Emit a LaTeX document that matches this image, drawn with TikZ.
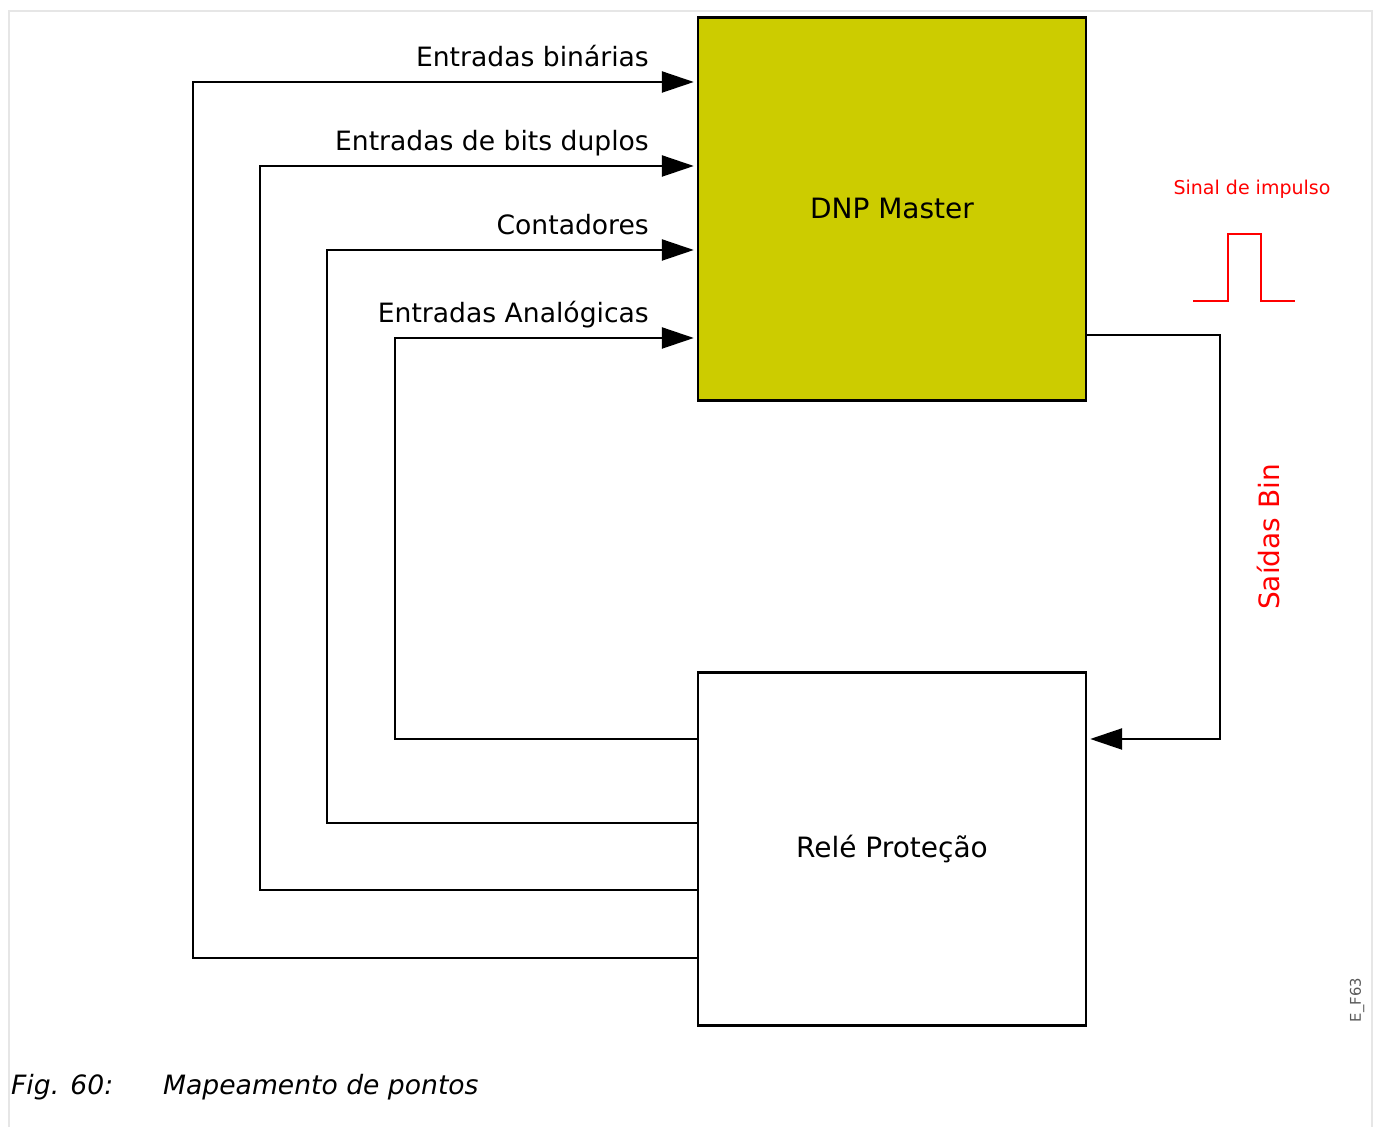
\documentclass[tikz,border=0pt]{standalone}
\usepackage{fontspec}
\setmainfont{DejaVu Sans}
\usetikzlibrary{arrows.meta,positioning}
\definecolor{dnpyellow}{RGB}{204,204,0}
\definecolor{framegray}{RGB}{230,230,230}
\newcommand{\InLink}[5]{%
  \draw[link] (rele.west |- 0,#1) -| (#2,#3) -- (dnp.west |- 0,#3);
  \node[inlabel] (#5) at (650,#3-15.5) {#4};
}

\begin{document}
\begin{tikzpicture}[x=0.5pt,y=-0.5pt,line width=1.2pt,
    box/.style={draw=black, minimum width=194pt, inner sep=0pt, font=\fontsize{14}{17}\selectfont},
    link/.style={-{Triangle[length=16pt,width=10.5pt]}, shorten >=1.5pt},
    inlabel/.style={anchor=base east, inner sep=0pt, font=\fontsize{13.3}{16}\selectfont}]
    \useasboundingbox (0,0) rectangle (1378,1127);
    \draw[framegray, line width=1pt] (9,1127) -- (9,11) -- (1372,11) -- (1372,1127);
    \node[box, fill=dnpyellow, minimum height=191.5pt] (dnp) at (892,209) {DNP Master};
    \node[box, minimum height=176.5pt] (rele) at (892,849) {Relé Proteção};
    \InLink{958}{193}{82}{Entradas binárias}{lbin}
    \InLink{890}{260}{166}{Entradas de bits duplos}{lbits}
    \InLink{823}{327}{250}{Contadores}{lcont}
    \InLink{739}{395}{338}{Entradas Analógicas}{lana}
    \draw[link] (dnp.east |- 0,335) -| (1220,739) -- (rele.east |- 0,739);
    \node[red, rotate=90, font=\fontsize{14}{17}\selectfont] (saidas) at (1268,537) {Saídas Bin};
    \node[red, font=\fontsize{9.5}{11}\selectfont] (sinal) at (1252,189) {Sinal de impulso};
    \draw[red, line width=1pt] (1193,301) -- (1228,301) -- (1228,234) -- (1261,234) -- (1261,301) -- (1295,301);
    \node[black!65, rotate=90, font=\fontsize{7.4}{9}\selectfont] (code) at (1357,1000) {E\_F63};
    \node[anchor=base west, inner sep=0pt, font=\itshape\fontsize{13.3}{16}\selectfont] (fig) at (10,1095) {Fig. 60:};
    \node[anchor=base west, inner sep=0pt, font=\itshape\fontsize{13.3}{16}\selectfont] (cap) at (162,1095) {Mapeamento de pontos};
\end{tikzpicture}
\end{document}
